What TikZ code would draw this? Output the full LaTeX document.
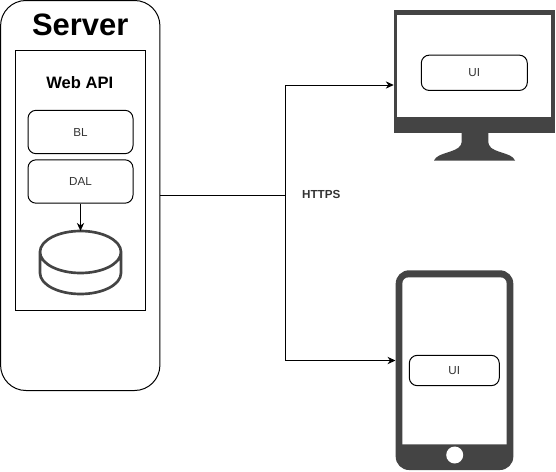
\documentclass[tikz,border=0pt]{standalone}
\usepackage{fontspec}
\setmainfont{Liberation Sans}
\usetikzlibrary{arrows.meta}
\definecolor{icon}{HTML}{444444}
\definecolor{txt}{HTML}{333333}
\tikzset{
  x=0.75pt,y=-0.75pt,
  line/.style={draw=black,line width=0.75pt},
  conn/.style={line,-{Stealth[length=6pt,width=5.5pt]}},
  boxnode/.style={line,rectangle,inner sep=0pt,minimum width=#1},
  soft/.style={boxnode=105*0.75pt,rounded corners=6pt,minimum height=32.5pt,
     font=\fontsize{8.75pt}{10pt}\selectfont,text=txt},
  iconfill/.style={fill=icon,draw=none},
}
\begin{document}
\begin{tikzpicture}
\useasboundingbox (0,0) rectangle (556,471);
% server
\node[line,rectangle,rounded corners=19pt,inner sep=0pt,minimum width=119.5pt,minimum height=292.5pt] (server) at (80.25,195.5) {};
\node[font=\bfseries\fontsize{23.2pt}{26pt}\selectfont,inner sep=0pt] (servertitle) at (80.2,25.3) {Server};
\node[line,rectangle,inner sep=0pt,minimum width=97.5pt,minimum height=194.8pt] (webapi) at (80.5,180.4) {};
\node[font=\bfseries\fontsize{12.4pt}{14pt}\selectfont,inner sep=0pt] (webapititle) at (79.8,83) {Web API};
\node[soft] (bl) at (80.5,132) {BL};
\node[soft] (dal) at (80.5,181.5) {DAL};
% database
\node[rectangle,inner sep=0pt,minimum width=60pt,minimum height=47pt] (db) at (80.5,262.5) {};
\draw[draw=icon,line width=2pt,fill=white] (40,252) arc[start angle=180,end angle=0,x radius=40.5,y radius=21] -- (121,273) arc[start angle=0,end angle=180,x radius=40.5,y radius=21] -- cycle;
\draw[draw=icon,line width=2pt] (40,252) arc[start angle=180,end angle=360,x radius=40.5,y radius=21];
\draw[conn] (dal.south) -- (db.north);
% monitor
\node[rectangle,inner sep=0pt,minimum width=120.75pt,minimum height=112.5pt] (desktop) at (474.5,85) {};
\fill[icon] (394,10) rectangle (555,133.3);
\fill[white] (397.3,14.7) rectangle (551.3,117.3);
\fill[icon] (461.7,132) -- (488.3,132) -- (488.3,140) .. controls (488.3,148) and (492,149) .. (500,152) .. controls (508,154.5) and (513,156) .. (515,160.5) -- (434,160.5) .. controls (436,156) and (441,154.5) .. (449,152) .. controls (457,149) and (461.7,148) .. (461.7,140) -- cycle;
\node[soft,minimum width=79.5pt,minimum height=26.5pt] (uidesk) at (474.3,72.8) {UI};
% phone
\node[rectangle,inner sep=0pt,minimum width=88.5pt,minimum height=150pt] (phone) at (454.5,370) {};
\coordinate (phoneport) at (395.5,360.5);
\fill[icon,rounded corners=10pt] (395.7,270.3) rectangle (513.3,470);
\fill[white] (409,277.3) -- (500,277.3) .. controls (504,277.3) and (506.7,280) .. (506.7,284) -- (506.7,444.3) -- (402.3,444.3) -- (402.3,284) .. controls (402.3,280) and (405,277.3) .. (409,277.3) -- cycle;
\fill[white] (454.7,455) circle[radius=8.5];
\node[soft,minimum width=67.5pt,minimum height=22.75pt] (uiphone) at (454.3,370.5) {UI};
% connectors
\coordinate (junction) at (285.5,195.5);
\draw[line] (server.east) -- (junction);
\draw[conn] (junction) |- (desktop.west);
\draw[conn] (junction) |- (phoneport);
\node[font=\bfseries\fontsize{8.75pt}{10pt}\selectfont,text=txt,inner sep=0pt] (https) at (321.3,194.5) {HTTPS};
\end{tikzpicture}
\end{document}
